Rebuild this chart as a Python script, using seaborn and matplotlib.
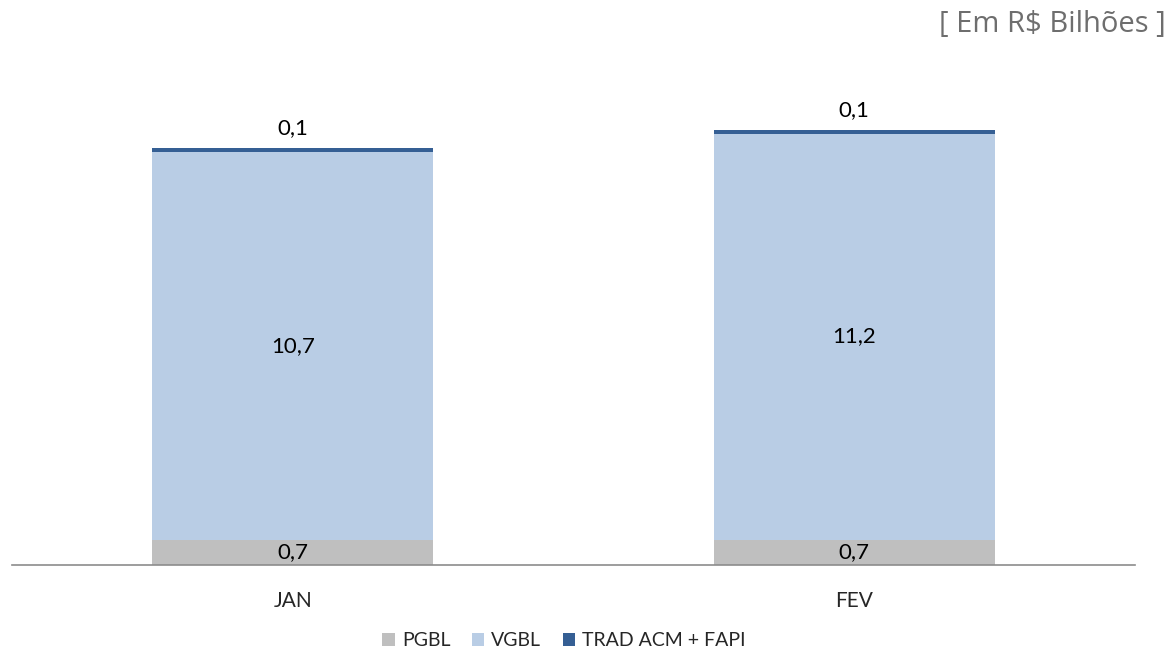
import matplotlib
matplotlib.use("Agg")
import matplotlib.pyplot as plt
import seaborn as sns
import pandas as pd
from matplotlib.patches import Patch

# dados (R$ bilhões)
meses = ["JAN", "FEV"]
pgbl = [0.7, 0.7]
vgbl = [10.7, 11.2]
trad = [0.1, 0.1]
series = ["PGBL", "VGBL", "TRAD ACM + FAPI"]
cores = {"PGBL": "#bfbfbf", "VGBL": "#b9cde5", "TRAD ACM + FAPI": "#355f94"}

df = pd.DataFrame({"mes": meses, "PGBL": pgbl, "VGBL": vgbl, "TRAD ACM + FAPI": trad})
df["ate_vgbl"] = df["PGBL"] + df["VGBL"]
df["total"] = df["ate_vgbl"] + df["TRAD ACM + FAPI"]

sns.set_style("white")
plt.rcParams["font.family"] = ["Lato", "DejaVu Sans"]

fig = plt.figure(figsize=(11.7, 6.51), dpi=100)
ax = fig.add_axes([0.0103, 0.1321, 0.9598, 0.7742])

# empilhado: desenha do total para baixo
sns.barplot(data=df, x="mes", y="total", color=cores["TRAD ACM + FAPI"], width=0.5,
            saturation=1, linewidth=0, ax=ax)
sns.barplot(data=df, x="mes", y="ate_vgbl", color=cores["VGBL"], width=0.5,
            saturation=1, linewidth=0, ax=ax)
sns.barplot(data=df, x="mes", y="PGBL", color=cores["PGBL"], width=0.5,
            saturation=1, linewidth=0, ax=ax)

for i, row in df.iterrows():
    ax.text(i, row["PGBL"] / 2, f"{row['PGBL']:.1f}".replace(".", ","),
            ha="center", va="center", fontsize=16, color="black")
    ax.text(i, row["PGBL"] + row["VGBL"] / 2, f"{row['VGBL']:.1f}".replace(".", ","),
            ha="center", va="center", fontsize=16, color="black")
    ax.annotate(f"{row['TRAD ACM + FAPI']:.1f}".replace(".", ","), (i, row["total"]),
                xytext=(0, 7), textcoords="offset points",
                ha="center", va="bottom", fontsize=16, color="black")

ax.set_xlim(-0.5, 1.5)
ax.set_ylim(0, 13.9)
ax.set_xlabel("")
ax.set_ylabel("")
ax.set_yticks([])
ax.tick_params(axis="x", length=0, pad=19, labelsize=15)
for s in ["top", "right", "left"]:
    ax.spines[s].set_visible(False)
ax.spines["bottom"].set_color("#8c8c8c")
ax.spines["bottom"].set_linewidth(1.2)

fig.text(0.996, 0.962, "[ Em R$ Bilhões ]", ha="right", va="center",
         fontsize=21, color="#6e6e6e", family=["Open Sans", "DejaVu Sans"])

handles = [Patch(facecolor=cores[s], edgecolor="none", label=s) for s in series]
fig.legend(handles=handles, loc="center", bbox_to_anchor=(0.482, 0.016),
           ncol=3, frameon=False, fontsize=14, handlelength=0.65, handleheight=0.65,
           handletextpad=0.35, columnspacing=1.1)

fig.savefig("out.png", dpi=100)
